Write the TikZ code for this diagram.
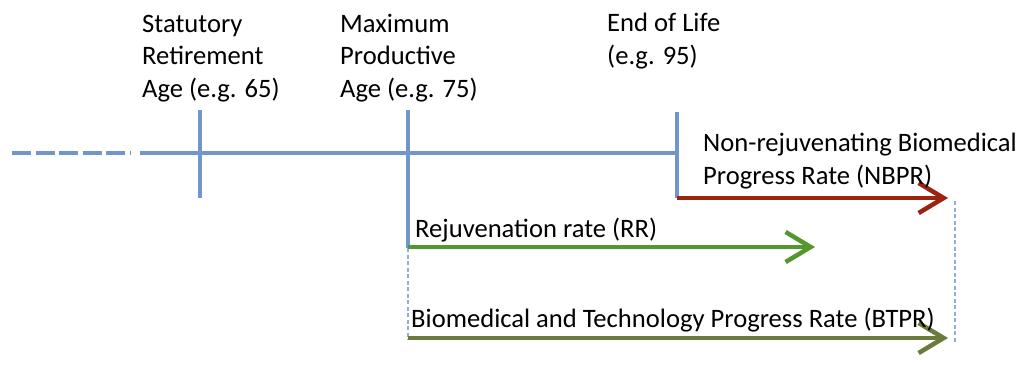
\documentclass[tikz,border=0pt]{standalone}
\usepackage{fontspec}
\setmainfont{Carlito}
\usetikzlibrary{arrows.meta}
\definecolor{tl}{HTML}{7097CC}
\definecolor{gl}{HTML}{8FAEDC}
\definecolor{nb}{HTML}{9B2410}
\definecolor{rr}{HTML}{54972C}
\definecolor{bt}{HTML}{6A7B3C}
\tikzset{
  lbl/.style={anchor=base west, inner sep=0pt, align=left, font=\fontsize{26.6}{32.5}\selectfont},
  axis/.style={draw=tl, line width=4pt},
  tick/.style={draw=tl, line width=3.5pt},
  guide/.style={draw=gl, line width=1.3pt, dash pattern=on 4pt off 2.5pt},
  rate/.style={line width=4.5pt, -{Straight Barb[length=25pt,width=30pt,line width=4.5pt]}},
}
\begin{document}
\begin{tikzpicture}[x=1pt,y=-1pt]
\useasboundingbox (0,0) rectangle (1024,364);
% coordinates
\coordinate (d0) at (12,153);
\coordinate (d1) at (130,153);
\coordinate (s0) at (140,153);
\coordinate (s1) at (679,153);
\coordinate (t1a) at (200,110);
\coordinate (t1b) at (200,198);
\coordinate (t2a) at (408,110);
\coordinate (t2b) at (408,248);
\coordinate (t2c) at (408,340);
\coordinate (t3a) at (677,112);
\coordinate (t3b) at (677,198);
\coordinate (nbe) at (948,198);
\coordinate (rrs) at (408,247);
\coordinate (rre) at (815,247);
\coordinate (bts) at (408,338);
\coordinate (bte) at (948,338);
\coordinate (g1) at (955,201);
\coordinate (g2) at (955,342);
% axis
\draw[axis, dash pattern=on 19pt off 4.5pt] (d0) -- (d1);
\draw[axis] (s0) -- (s1);
\draw[tick] (t1a) -- (t1b);
\draw[tick] (t2a) -- (t2b);
\draw[tick] (t3a) -- (t3b);
\draw[guide] (t2b) -- (t2c);
\draw[guide] (g1) -- (g2);
% arrows
\draw[rate, nb] (t3b) -- (nbe);
\draw[rate, rr] (rrs) -- (rre);
\draw[rate, bt] (bts) -- (bte);
% labels (anchor = baseline of last line)
\node[lbl] (l1) at (142,97) {Statutory\\Retirement\\Age (e.g. 65)};
\node[lbl] (l2) at (340,97) {Maximum\\Productive\\Age (e.g. 75)};
\node[lbl] (l3) at (607,64) {End of Life\\(e.g. 95)};
\node[lbl] (l4) at (703,184) {Non-rejuvenating Biomedical\\Progress Rate (NBPR)};
\node[lbl] (l5) at (415,237) {Rejuvenation rate (RR)};
\node[lbl] (l6) at (411,327) {Biomedical and Technology Progress Rate (BTPR)};
\end{tikzpicture}
\end{document}
